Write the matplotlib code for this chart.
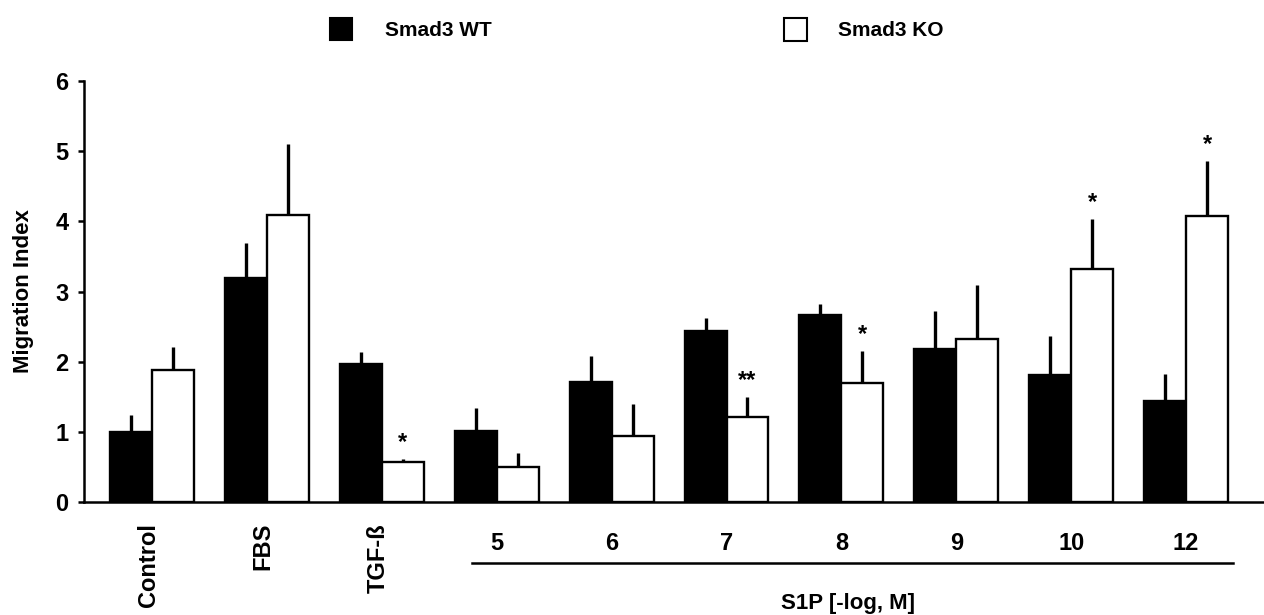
import matplotlib
matplotlib.use("Agg")
import matplotlib.pyplot as plt
import numpy as np
from matplotlib.patches import Rectangle
from matplotlib.lines import Line2D
import matplotlib.transforms as mtransforms

plt.rcParams['font.family'] = ['Liberation Sans', 'DejaVu Sans']
plt.rcParams['font.weight'] = 'bold'

categories = ["Control", "FBS", "TGF-ß", "5", "6", "7", "8", "9", "10", "12"]
wt_values = [1.00, 3.19, 1.97, 1.01, 1.71, 2.44, 2.66, 2.18, 1.81, 1.44]
wt_errors = [0.24, 0.50, 0.17, 0.33, 0.37, 0.18, 0.16, 0.54, 0.55, 0.38]
ko_values = [1.88, 4.09, 0.57, 0.50, 0.94, 1.21, 1.70, 2.32, 3.32, 4.07]
ko_errors = [0.33, 1.01, 0.04, 0.20, 0.46, 0.29, 0.45, 0.77, 0.71, 0.79]
significance = {2: "*", 5: "**", 6: "*", 8: "*", 9: "*"}
series_names = ["Smad3 WT", "Smad3 KO"]
y_ticks = [0, 1, 2, 3, 4, 5, 6]
y_label = "Migration Index"
s1p_label = "S1P [-log, M]"

W, H = 1264, 615
fig = plt.figure(figsize=(W / 100, H / 100), dpi=100)
ax = fig.add_axes([84 / W, 1 - 502 / H, 1180 / W, 421 / H])

x = np.arange(len(categories))
w = 0.365
lw_edge = 1.7
ax.bar(x - w / 2, wt_values, width=w, color="black", edgecolor="black", linewidth=lw_edge, zorder=2)
ax.bar(x + w / 2, ko_values, width=w, color="white", edgecolor="black", linewidth=lw_edge, zorder=2)
ax.errorbar(x - w / 2, wt_values, yerr=[np.zeros(len(x)), wt_errors], fmt="none",
            ecolor="black", elinewidth=2.4, capsize=0, zorder=1)
ax.errorbar(x + w / 2, ko_values, yerr=[np.zeros(len(x)), ko_errors], fmt="none",
            ecolor="black", elinewidth=2.4, capsize=0, zorder=1)

for i, s in significance.items():
    ax.annotate(s, xy=(x[i] + w / 2, ko_values[i] + ko_errors[i]), xytext=(0, 10),
                textcoords="offset pixels", ha="center", va="baseline",
                fontsize=17, fontweight="bold")

ax.set_xlim(-0.592, 9.678)
ax.set_ylim(0, 6)
ax.set_yticks(y_ticks)
ax.set_yticklabels([str(t) for t in y_ticks], fontsize=17, fontweight="bold")
ax.tick_params(axis="y", direction="out", length=4, width=1.8, pad=7)
ax.tick_params(axis="x", length=0)
ax.set_xticks([])
for side in ["top", "right"]:
    ax.spines[side].set_visible(False)
for side in ["left", "bottom"]:
    ax.spines[side].set_linewidth(1.8)

ax.set_ylabel(y_label, fontsize=16, fontweight="bold")
ax.yaxis.set_label_coords(-(84 - 34) / 1180, 0.5)

trans = mtransforms.blended_transform_factory(ax.transData, ax.transAxes)
for i, c in enumerate(categories):
    if i < 3:
        ax.annotate(c, xy=(x[i], 0), xycoords=trans, xytext=(-4, -21),
                    textcoords="offset pixels", rotation=90, ha="center", va="top",
                    fontsize=17, fontweight="bold")
    else:
        ax.annotate(c, xy=(x[i], 0), xycoords=trans, xytext=(0, -41),
                    textcoords="offset pixels", ha="center", va="center",
                    fontsize=17, fontweight="bold")

line_y = -(563 - 502) / 421
ax.add_line(Line2D([2.785, 9.408], [line_y, line_y], transform=trans, color="black",
                   linewidth=1.8, clip_on=False))
ax.text(6.06, -(603 - 502) / 421, s1p_label, transform=trans, ha="center", va="center",
        fontsize=16, fontweight="bold")

# legend
fig.patches.append(Rectangle((330 / W, 1 - 40 / H), 22 / W, 22 / H, transform=fig.transFigure,
                             facecolor="black", edgecolor="black", linewidth=1.5))
fig.text(385 / W, 1 - 30 / H, series_names[0], ha="left", va="center", fontsize=15, fontweight="bold")
fig.patches.append(Rectangle((784 / W, 1 - 41 / H), 23 / W, 23 / H, transform=fig.transFigure,
                             facecolor="white", edgecolor="black", linewidth=1.5))
fig.text(838 / W, 1 - 30 / H, series_names[1], ha="left", va="center", fontsize=15, fontweight="bold")

fig.savefig("out.png", dpi=100)
